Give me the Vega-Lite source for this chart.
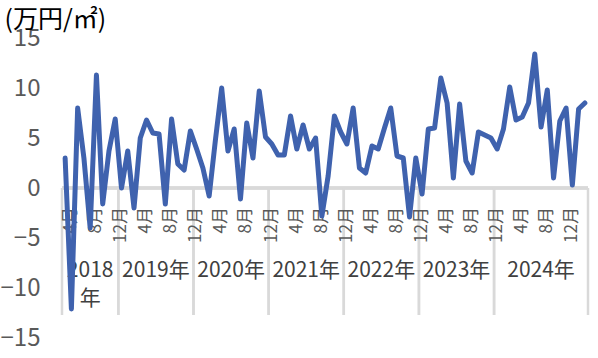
{
  "$schema": "https://vega.github.io/schema/vega-lite/v6.json",
  "width": 526,
  "height": 300,
  "autosize": "none",
  "padding": {"left": 62, "top": 38, "right": 10, "bottom": 20},
  "background": "white",
  "config": {"view": {"stroke": null}, "font": "Liberation Sans Narrow, Noto Sans CJK JP"},
  "datasets": {
    "series": [
      {"i":0,"ym":"2018-04","month":"4月","v":3.0},
      {"i":1,"ym":"2018-05","month":"5月","v":-12.1},
      {"i":2,"ym":"2018-06","month":"6月","v":8.0},
      {"i":3,"ym":"2018-07","month":"7月","v":3.0},
      {"i":4,"ym":"2018-08","month":"8月","v":-4.0},
      {"i":5,"ym":"2018-09","month":"9月","v":11.3},
      {"i":6,"ym":"2018-10","month":"10月","v":-1.6},
      {"i":7,"ym":"2018-11","month":"11月","v":3.7},
      {"i":8,"ym":"2018-12","month":"12月","v":6.9},
      {"i":9,"ym":"2019-01","month":"1月","v":0.0},
      {"i":10,"ym":"2019-02","month":"2月","v":3.7},
      {"i":11,"ym":"2019-03","month":"3月","v":-2.0},
      {"i":12,"ym":"2019-04","month":"4月","v":5.0},
      {"i":13,"ym":"2019-05","month":"5月","v":6.8},
      {"i":14,"ym":"2019-06","month":"6月","v":5.5},
      {"i":15,"ym":"2019-07","month":"7月","v":5.4},
      {"i":16,"ym":"2019-08","month":"8月","v":-1.6},
      {"i":17,"ym":"2019-09","month":"9月","v":6.9},
      {"i":18,"ym":"2019-10","month":"10月","v":2.4},
      {"i":19,"ym":"2019-11","month":"11月","v":1.8},
      {"i":20,"ym":"2019-12","month":"12月","v":5.7},
      {"i":21,"ym":"2020-01","month":"1月","v":3.9},
      {"i":22,"ym":"2020-02","month":"2月","v":2.0},
      {"i":23,"ym":"2020-03","month":"3月","v":-0.8},
      {"i":24,"ym":"2020-04","month":"4月","v":4.8},
      {"i":25,"ym":"2020-05","month":"5月","v":10.0},
      {"i":26,"ym":"2020-06","month":"6月","v":3.7},
      {"i":27,"ym":"2020-07","month":"7月","v":5.9},
      {"i":28,"ym":"2020-08","month":"8月","v":-1.1},
      {"i":29,"ym":"2020-09","month":"9月","v":6.5},
      {"i":30,"ym":"2020-10","month":"10月","v":3.0},
      {"i":31,"ym":"2020-11","month":"11月","v":9.7},
      {"i":32,"ym":"2020-12","month":"12月","v":5.1},
      {"i":33,"ym":"2021-01","month":"1月","v":4.4},
      {"i":34,"ym":"2021-02","month":"2月","v":3.3},
      {"i":35,"ym":"2021-03","month":"3月","v":3.3},
      {"i":36,"ym":"2021-04","month":"4月","v":7.2},
      {"i":37,"ym":"2021-05","month":"5月","v":3.9},
      {"i":38,"ym":"2021-06","month":"6月","v":6.3},
      {"i":39,"ym":"2021-07","month":"7月","v":3.9},
      {"i":40,"ym":"2021-08","month":"8月","v":5.0},
      {"i":41,"ym":"2021-09","month":"9月","v":-2.8},
      {"i":42,"ym":"2021-10","month":"10月","v":1.2},
      {"i":43,"ym":"2021-11","month":"11月","v":7.2},
      {"i":44,"ym":"2021-12","month":"12月","v":5.6},
      {"i":45,"ym":"2022-01","month":"1月","v":4.4},
      {"i":46,"ym":"2022-02","month":"2月","v":8.0},
      {"i":47,"ym":"2022-03","month":"3月","v":2.0},
      {"i":48,"ym":"2022-04","month":"4月","v":1.5},
      {"i":49,"ym":"2022-05","month":"5月","v":4.2},
      {"i":50,"ym":"2022-06","month":"6月","v":3.9},
      {"i":51,"ym":"2022-07","month":"7月","v":6.0},
      {"i":52,"ym":"2022-08","month":"8月","v":8.0},
      {"i":53,"ym":"2022-09","month":"9月","v":3.2},
      {"i":54,"ym":"2022-10","month":"10月","v":3.0},
      {"i":55,"ym":"2022-11","month":"11月","v":-2.9},
      {"i":56,"ym":"2022-12","month":"12月","v":3.0},
      {"i":57,"ym":"2023-01","month":"1月","v":-0.6},
      {"i":58,"ym":"2023-02","month":"2月","v":5.9},
      {"i":59,"ym":"2023-03","month":"3月","v":6.0},
      {"i":60,"ym":"2023-04","month":"4月","v":11.0},
      {"i":61,"ym":"2023-05","month":"5月","v":8.5},
      {"i":62,"ym":"2023-06","month":"6月","v":1.0},
      {"i":63,"ym":"2023-07","month":"7月","v":8.4},
      {"i":64,"ym":"2023-08","month":"8月","v":2.7},
      {"i":65,"ym":"2023-09","month":"9月","v":1.5},
      {"i":66,"ym":"2023-10","month":"10月","v":5.6},
      {"i":67,"ym":"2023-11","month":"11月","v":5.3},
      {"i":68,"ym":"2023-12","month":"12月","v":5.0},
      {"i":69,"ym":"2024-01","month":"1月","v":3.9},
      {"i":70,"ym":"2024-02","month":"2月","v":5.9},
      {"i":71,"ym":"2024-03","month":"3月","v":10.1},
      {"i":72,"ym":"2024-04","month":"4月","v":6.8},
      {"i":73,"ym":"2024-05","month":"5月","v":7.1},
      {"i":74,"ym":"2024-06","month":"6月","v":8.5},
      {"i":75,"ym":"2024-07","month":"7月","v":13.4},
      {"i":76,"ym":"2024-08","month":"8月","v":6.1},
      {"i":77,"ym":"2024-09","month":"9月","v":9.8},
      {"i":78,"ym":"2024-10","month":"10月","v":1.0},
      {"i":79,"ym":"2024-11","month":"11月","v":6.7},
      {"i":80,"ym":"2024-12","month":"12月","v":8.0},
      {"i":81,"ym":"2025-01","month":"1月","v":0.3},
      {"i":82,"ym":"2025-02","month":"2月","v":7.9},
      {"i":83,"ym":"2025-03","month":"3月","v":8.5}
    ],
    "years": [
      {"year":"2018\n年","start":-0.5,"end":8.5},
      {"year":"2019年","start":8.5,"end":20.5},
      {"year":"2020年","start":20.5,"end":32.5},
      {"year":"2021年","start":32.5,"end":44.5},
      {"year":"2022年","start":44.5,"end":56.5},
      {"year":"2023年","start":56.5,"end":68.5},
      {"year":"2024年","start":68.5,"end":83.5}
    ]
  },
  "layer": [
    {
      "data": {"name": "series"},
      "mark": {"type": "rule", "color": "#d9d9d9", "strokeWidth": 2.5},
      "encoding": {
        "y": {"datum": 0, "type": "quantitative", "scale": {"domain": [-15, 15], "nice": false, "zero": false},
          "axis": {"values": [-15,-10,-5,0,5,10,15], "grid": false, "domain": false, "ticks": false, "tickSize": 0,
            "labelPadding": 22, "labelFontSize": 24, "labelColor": "#595959", "labelFont": "Liberation Sans Narrow, Noto Sans CJK JP",
            "title": "(万円/㎡)", "titleAngle": 0, "titleAlign": "left", "titleBaseline": "middle", "titleX": -58, "titleY": -19,
            "titleFont": "Noto Sans CJK JP", "titleFontSize": 25, "titleFontWeight": "normal", "titleColor": "#000000"}}
      }
    },
    {
      "data": {"name": "years"},
      "mark": {"type": "rule", "color": "#d9d9d9", "strokeWidth": 2.5},
      "encoding": {
        "x": {"field": "start", "type": "quantitative", "scale": {"domain": [-0.5, 83.5], "nice": false, "zero": false}, "axis": null},
        "y": {"datum": 0, "type": "quantitative"},
        "y2": {"datum": -12.7}
      }
    },
    {
      "data": {"name": "years"},
      "mark": {"type": "rule", "color": "#d9d9d9", "strokeWidth": 2.5},
      "encoding": {
        "x": {"field": "end", "type": "quantitative"},
        "y": {"datum": 0, "type": "quantitative"},
        "y2": {"datum": -12.7}
      }
    },
    {
      "data": {"name": "series"},
      "transform": [{"filter": "datum.i % 4 == 0"}],
      "mark": {"type": "text", "angle": 270, "align": "right", "baseline": "middle", "dx": -19, "dy": 6,
        "fontSize": 17, "color": "#595959", "font": "Liberation Sans Narrow, Noto Sans CJK JP"},
      "encoding": {
        "x": {"field": "i", "type": "quantitative"},
        "y": {"datum": 0, "type": "quantitative"},
        "text": {"field": "month"}
      }
    },
    {
      "data": {"name": "years"},
      "transform": [{"calculate": "(datum.start + datum.end) / 2", "as": "mid"}],
      "mark": {"type": "text", "align": "center", "baseline": "top", "lineBreak": "\n", "lineHeight": 28,
        "fontSize": 21, "color": "#404040", "font": "Liberation Sans Narrow, Noto Sans CJK JP"},
      "encoding": {
        "x": {"field": "mid", "type": "quantitative"},
        "y": {"datum": -7.2, "type": "quantitative"},
        "text": {"field": "year"}
      }
    },
    {
      "data": {"name": "series"},
      "mark": {"type": "line", "color": "#3f62ae", "strokeWidth": 5, "strokeJoin": "round", "strokeCap": "round"},
      "encoding": {
        "x": {"field": "i", "type": "quantitative"},
        "y": {"field": "v", "type": "quantitative"}
      }
    }
  ]
}
